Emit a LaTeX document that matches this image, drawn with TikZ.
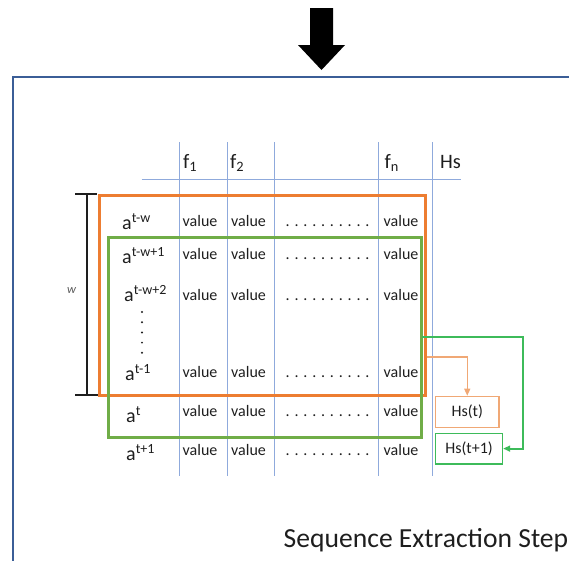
\documentclass[tikz,border=0pt]{standalone}
\usepackage{fontspec}
\setmainfont{Carlito}
\usetikzlibrary{arrows.meta}

\definecolor{frameblue}{HTML}{3B5E97}
\definecolor{gridblue}{HTML}{8FAADC}
\definecolor{winorange}{HTML}{ED7D31}
\definecolor{wingreen}{HTML}{70AD47}
\definecolor{hsorange}{HTML}{F0A875}
\definecolor{hsgreen}{HTML}{3DBB5A}
\definecolor{ink}{HTML}{1E1E1E}

% raised exponent for the row labels
\newcommand\expo[1]{\raisebox{7pt}{\fontsize{14}{14}\selectfont #1}}

\tikzset{
  gridline/.style={gridblue, line width=0.9},
  cellval/.style={anchor=base west, inner sep=0, text=ink, font=\fontsize{16}{16}\selectfont},
  celldots/.style={anchor=base west, inner sep=0, text=ink, font=\fontsize{16}{16}\selectfont},
  rowlabel/.style={anchor=base west, inner sep=0, text=ink, font=\fontsize{20}{20}\selectfont},
  colhead/.style={anchor=base west, inner sep=0, text=ink, font=\fontsize{20.5}{20}\selectfont},
  hsbox/.style={draw, line width=1.2, inner sep=0, text=ink,
    font=\fontsize{16}{16}\selectfont, anchor=north west},
}

\begin{document}
\begin{tikzpicture}[x=1pt, y=-1pt]
\useasboundingbox (0,0) rectangle (569,560);
\clip (0,0) rectangle (569,560);

% block arrow coming from above
\fill[black] (310,8) -- (333,8) -- (333,45) -- (345,45) -- (321.5,70)
  -- (298,45) -- (310,45) -- cycle;

% outer frame of the step
\draw[frameblue, line width=2] (12.7,580) -- (12.7,77) -- (590,77);

% table grid
\foreach \x/\n in {179/c1, 227/c2, 274/c3, 378/c4, 432/c5}
  \draw[gridline] (\x,142) coordinate (\n top) -- (\x,476) coordinate (\n bot);
\coordinate (hl) at (141.5,179.5);
\coordinate (hr) at (461,179.5);
\draw[gridline] (hl) -- (hr);

% column headers
\node[colhead] (hf1) at (183,168) {f\textsubscript{1}};
\node[colhead] (hf2) at (230,168) {f\textsubscript{2}};
\node[colhead] (hfn) at (384.5,168) {f\textsubscript{n}};
\node[colhead] (hhs) at (440,168) {Hs};

% row labels
\node[rowlabel] (r1) at (122,229) {a\expo{t-w}};
\node[rowlabel] (r2) at (122,263) {a\expo{t-w+1}};
\node[rowlabel] (r3) at (124,301) {a\expo{t-w+2}};
\node[rowlabel] (r4) at (125,380) {a\expo{t-1}};
\node[rowlabel] (r5) at (126,422) {a\expo{t}};
\node[rowlabel] (r6) at (126,460) {a\expo{t+1}};

% vertical ellipsis between rows 3 and 4
\foreach \i in {0,...,4}
  \fill[ink] (142,312+10.2*\i) circle (1.1);

% cell contents
\foreach \y/\n in {226/1, 259/2, 300/3, 377/4, 416/5, 455/6} {
  \node[cellval] (v\n a) at (182.5,\y) {value};
  \node[cellval] (v\n b) at (231,\y) {value};
  \node[celldots] (d\n) at (285.5,\y) {. . . . . . . . . .};
  \node[cellval] (v\n n) at (383.5,\y) {value};
}

% window w
\coordinate (wt) at (87,194);
\coordinate (wb) at (87,395);
\draw[ink, line width=1.4] (wt) -- (wb);
\draw[ink, line width=1.4] (75,194) -- (97,194) (75,395) -- (98,395);
\node[text=black!65, font=\fontsize{12.5}{12.5}\selectfont\itshape, inner sep=0] (wlab) at (71.5,291) {w};

% sliding windows
\draw[winorange, line width=3] (99,195) rectangle (425.7,395);
\draw[wingreen, line width=3] (108,237) rectangle (421.7,437);

% targets
\node[hsbox, hsorange, minimum width=63.3, minimum height=31.3] (hst) at (435,395.7) {\textcolor{ink}{Hs(t)}};
\node[hsbox, hsgreen, minimum width=67, minimum height=30.6] (hst1) at (435,432.7) {\textcolor{ink}{Hs(t+1)}};

% connectors from windows to targets
\coordinate (os) at (427,357);
\coordinate (gs) at (421.7,336.7);
\coordinate (gc) at (523,336.7);
\draw[hsorange, line width=1.3, -{Triangle[length=7pt,width=6pt]}]
  (os) -| (hst.north);
\draw[hsgreen, line width=2, -{Triangle[length=7pt,width=6pt]}]
  (gs) -- (gc) |- (hst1.east);

% caption
\node[anchor=base west, inner sep=0, text=ink, font=\fontsize{27.6}{28}\selectfont] (cap) at (283.5,547) {Sequence Extraction Step};
\end{tikzpicture}
\end{document}
